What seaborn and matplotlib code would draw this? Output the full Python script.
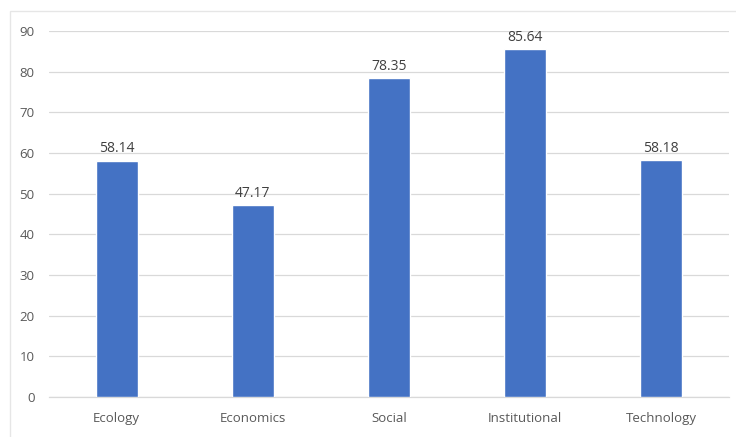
import matplotlib
matplotlib.use("Agg")
import matplotlib.pyplot as plt
import seaborn as sns
import pandas as pd

categories = ["Ecology", "Economics", "Social", "Institutional", "Technology"]
values = [58.14, 47.17, 78.35, 85.64, 58.18]
yticks = [0, 10, 20, 30, 40, 50, 60, 70, 80, 90]

df = pd.DataFrame({"category": categories, "value": values})

sns.set_style("white")
plt.rcParams["font.family"] = ["Open Sans", "DejaVu Sans"]

fig = plt.figure(figsize=(7.36, 4.37), dpi=100)
ax = fig.add_axes([0.066, 0.092, 0.925, 0.837])

sns.barplot(data=df, x="category", y="value", color="#4472C4", width=0.31,
            saturation=1, ax=ax, zorder=3)

ax.set_ylim(0, 90)
ax.set_yticks(yticks)
ax.set_yticklabels([str(t) for t in yticks])
ax.set_xlim(-0.5, len(categories) - 0.5)
ax.yaxis.grid(True, color="#D9D9D9", linewidth=0.9, zorder=0)
ax.set_axisbelow(True)
for s in ["top", "right", "left"]:
    ax.spines[s].set_visible(False)
ax.spines["bottom"].set_color("#D9D9D9")
ax.spines["bottom"].set_linewidth(0.9)
ax.tick_params(axis="both", length=0, labelsize=9.5, labelcolor="#595959")
ax.tick_params(axis="x", pad=11)
ax.tick_params(axis="y", pad=10)
ax.set_xlabel("")
ax.set_ylabel("")

for i, v in enumerate(values):
    ax.text(i, v + 1.0, f"{v:.2f}", ha="center", va="bottom", fontsize=10,
            color="#404040")

# faint chart border
fig.patches.append(plt.Rectangle((0.014, -0.01), 1.0, 0.985, transform=fig.transFigure,
                                 fill=False, edgecolor="#E6E6E6", linewidth=1))

fig.savefig("out.png", dpi=100, facecolor="white")
